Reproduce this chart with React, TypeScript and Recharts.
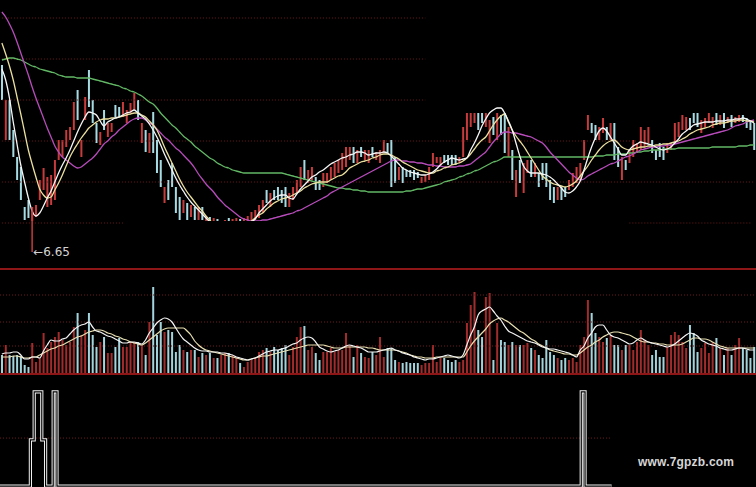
import React from 'react';
import { ComposedChart, Bar, Line, XAxis, YAxis, ReferenceLine, ReferenceDot } from 'recharts';

// candle bodies, one per trading day
const opens = [
  8.52, 7.77, 8.17, 7.87, 7.60, 7.50, 7.10, 7.17, 6.95, 7.00, 7.17, 7.27, 7.10, 7.12, 7.17, 7.57, 7.60, 7.70, 7.77, 7.87,
  8.27, 7.60, 7.97, 8.47, 8.17, 7.94, 7.72, 8.07, 7.80, 7.85, 8.12, 8.10, 8.00, 7.94, 8.04, 8.07, 8.17, 7.74, 7.87, 7.64,
  8.05, 7.77, 7.57, 7.14, 7.37, 7.54, 7.30, 7.20, 7.04, 7.14, 7.00, 7.10, 6.97, 7.10, 6.91, 7.00, 6.87, 6.98, 6.82, 6.85,
  6.99, 6.89, 6.91, 6.98, 6.89, 6.91, 6.96, 6.97, 6.99, 7.04, 7.27, 7.10, 7.27, 7.30, 7.27, 7.30, 7.10, 7.17, 7.24, 7.30,
  7.57, 7.34, 7.37, 7.40, 7.37, 7.30, 7.34, 7.37, 7.40, 7.44, 7.47, 7.50, 7.57, 7.70, 7.54, 7.70, 7.57, 7.54, 7.70, 7.57,
  7.54, 7.64, 7.74, 7.77, 7.60, 7.37, 7.50, 7.47, 7.47, 7.47, 7.45, 7.34, 7.35, 7.37, 7.50, 7.54, 7.52, 7.62, 7.62, 7.62,
  7.62, 7.54, 7.60, 7.77, 7.90, 7.94, 8.04, 8.04, 7.90, 7.74, 8.00, 7.77, 8.02, 8.04, 7.60, 7.67, 7.20, 7.57, 7.24, 7.44,
  7.57, 7.40, 7.44, 7.54, 7.54, 7.37, 7.30, 7.17, 7.30, 7.30, 7.27, 7.30, 7.34, 7.37, 7.57, 7.87, 7.94, 7.92, 7.77, 7.84,
  7.90, 7.77, 7.94, 7.70, 7.37, 7.57, 7.54, 7.60, 7.64, 7.67, 7.70, 7.74, 7.77, 7.67, 7.74, 7.70, 7.64, 7.67, 7.74, 7.80,
  7.87, 7.87, 7.99, 8.04, 8.04, 7.84, 7.90, 7.94, 7.89, 8.04, 7.92, 8.04, 7.94, 8.02, 7.94, 7.95, 8.02, 7.99, 7.95, 7.94,
];
const closes = [
  8.17, 8.17, 7.77, 7.60, 7.37, 7.17, 6.97, 6.99, 7.10, 7.12, 7.37, 7.49, 7.40, 7.42, 7.57, 7.77, 7.77, 7.87, 7.90, 8.15,
  7.97, 7.77, 8.20, 8.10, 7.94, 7.74, 7.85, 7.87, 7.94, 7.94, 8.00, 8.00, 8.15, 8.07, 8.14, 8.24, 7.97, 7.94, 7.65, 7.84,
  7.64, 7.44, 7.30, 7.30, 7.17, 7.30, 7.04, 6.97, 7.17, 6.97, 7.12, 6.97, 7.10, 6.97, 7.01, 6.91, 6.99, 6.85, 6.95, 6.97,
  6.87, 6.98, 6.99, 6.87, 6.99, 7.01, 7.05, 7.07, 7.12, 7.17, 7.14, 7.24, 7.17, 7.17, 7.14, 7.10, 7.24, 7.30, 7.37, 7.50,
  7.37, 7.47, 7.50, 7.27, 7.27, 7.44, 7.44, 7.50, 7.54, 7.57, 7.64, 7.70, 7.70, 7.54, 7.67, 7.60, 7.67, 7.67, 7.60, 7.65,
  7.67, 7.77, 7.64, 7.30, 7.34, 7.50, 7.34, 7.40, 7.40, 7.37, 7.39, 7.40, 7.42, 7.50, 7.64, 7.60, 7.60, 7.54, 7.52, 7.52,
  7.52, 7.60, 7.90, 8.04, 8.04, 8.04, 7.87, 7.94, 8.04, 7.97, 7.82, 8.04, 7.82, 7.64, 7.90, 7.37, 7.47, 7.34, 7.54, 7.57,
  7.40, 7.54, 7.30, 7.37, 7.30, 7.17, 7.14, 7.30, 7.17, 7.20, 7.37, 7.44, 7.50, 7.54, 7.77, 8.02, 7.84, 7.77, 7.90, 7.99,
  7.77, 7.94, 7.57, 7.50, 7.60, 7.47, 7.67, 7.77, 7.74, 7.90, 7.87, 7.90, 7.64, 7.57, 7.60, 7.57, 7.74, 7.74, 7.94, 7.95,
  8.02, 8.00, 7.87, 7.94, 7.90, 7.97, 7.99, 8.04, 8.00, 7.92, 8.02, 7.89, 8.00, 7.90, 8.00, 8.02, 7.95, 7.89, 7.87, 7.67,
];

// price moving averages
const ma5 = [
  8.48, 8.37, 8.19, 7.95, 7.73, 7.52, 7.35, 7.19, 7.06, 7.01, 7.04, 7.11, 7.19, 7.26, 7.35, 7.44, 7.52, 7.59, 7.67, 7.76,
  7.85, 7.93, 8.00, 8.05, 8.04, 8.02, 7.96, 7.91, 7.95, 7.97, 7.99, 8.00, 8.02, 8.04, 8.05, 8.07, 8.04, 8.01, 7.98, 7.93,
  7.87, 7.80, 7.72, 7.63, 7.55, 7.47, 7.39, 7.32, 7.26, 7.20, 7.15, 7.11, 7.07, 7.03, 6.99, 6.95, 6.91, 6.89, 6.87, 6.86,
  6.85, 6.85, 6.86, 6.87, 6.89, 6.92, 6.95, 6.98, 7.04, 7.08, 7.12, 7.16, 7.19, 7.21, 7.22, 7.22, 7.19, 7.18, 7.23, 7.28,
  7.32, 7.36, 7.40, 7.42, 7.45, 7.47, 7.50, 7.53, 7.55, 7.57, 7.59, 7.60, 7.62, 7.63, 7.65, 7.65, 7.64, 7.62, 7.63, 7.64,
  7.64, 7.65, 7.64, 7.61, 7.57, 7.53, 7.49, 7.47, 7.45, 7.44, 7.43, 7.42, 7.42, 7.43, 7.45, 7.48, 7.52, 7.55, 7.57, 7.59,
  7.58, 7.57, 7.58, 7.59, 7.67, 7.74, 7.82, 7.91, 7.98, 8.04, 8.07, 8.09, 8.09, 8.04, 7.96, 7.87, 7.74, 7.61, 7.51, 7.46,
  7.44, 7.44, 7.44, 7.43, 7.42, 7.40, 7.37, 7.33, 7.29, 7.25, 7.24, 7.26, 7.30, 7.36, 7.47, 7.59, 7.70, 7.79, 7.86, 7.89,
  7.86, 7.80, 7.74, 7.68, 7.62, 7.62, 7.67, 7.71, 7.73, 7.75, 7.74, 7.73, 7.72, 7.70, 7.68, 7.67, 7.68, 7.70, 7.74, 7.78,
  7.83, 7.86, 7.89, 7.92, 7.93, 7.94, 7.95, 7.95, 7.95, 7.96, 7.96, 7.96, 7.97, 7.97, 7.98, 7.98, 7.99, 7.98, 7.96, 7.94,
];
const ma10 = [
  8.74, 8.63, 8.51, 8.37, 8.20, 8.03, 7.85, 7.67, 7.53, 7.40, 7.28, 7.22, 7.19, 7.20, 7.27, 7.34, 7.42, 7.51, 7.60, 7.67,
  7.73, 7.79, 7.84, 7.89, 7.92, 7.95, 7.97, 7.98, 7.98, 7.99, 7.99, 8.00, 8.01, 8.02, 8.03, 8.04, 8.04, 8.02, 8.00, 7.96,
  7.92, 7.87, 7.79, 7.70, 7.62, 7.54, 7.46, 7.38, 7.31, 7.25, 7.20, 7.15, 7.10, 7.06, 7.01, 6.97, 6.93, 6.90, 6.88, 6.86,
  6.85, 6.85, 6.86, 6.88, 6.90, 6.93, 6.96, 6.99, 7.02, 7.04, 7.08, 7.11, 7.14, 7.16, 7.18, 7.19, 7.20, 7.22, 7.24, 7.26,
  7.29, 7.31, 7.33, 7.34, 7.35, 7.35, 7.35, 7.37, 7.39, 7.41, 7.42, 7.45, 7.49, 7.51, 7.53, 7.55, 7.56, 7.57, 7.59, 7.60,
  7.62, 7.63, 7.63, 7.62, 7.60, 7.58, 7.55, 7.53, 7.51, 7.49, 7.47, 7.46, 7.45, 7.44, 7.44, 7.46, 7.47, 7.49, 7.50, 7.52,
  7.53, 7.54, 7.56, 7.59, 7.63, 7.68, 7.73, 7.77, 7.80, 7.86, 7.92, 7.97, 8.01, 8.03, 7.95, 7.87, 7.81, 7.76, 7.71, 7.65,
  7.59, 7.53, 7.47, 7.41, 7.38, 7.35, 7.33, 7.32, 7.31, 7.30, 7.31, 7.33, 7.36, 7.41, 7.46, 7.51, 7.57, 7.62, 7.67, 7.71,
  7.74, 7.76, 7.77, 7.74, 7.70, 7.68, 7.67, 7.68, 7.69, 7.70, 7.70, 7.71, 7.71, 7.72, 7.72, 7.73, 7.73, 7.74, 7.75, 7.76,
  7.78, 7.80, 7.83, 7.85, 7.87, 7.88, 7.89, 7.90, 7.92, 7.93, 7.94, 7.94, 7.95, 7.96, 7.96, 7.97, 7.97, 7.96, 7.96, 7.95,
];
const ma20 = [
  9.05, 9.00, 8.93, 8.85, 8.75, 8.64, 8.53, 8.42, 8.30, 8.19, 8.09, 7.99, 7.89, 7.80, 7.71, 7.65, 7.60, 7.57, 7.54, 7.51,
  7.49, 7.50, 7.53, 7.56, 7.59, 7.63, 7.68, 7.73, 7.76, 7.80, 7.83, 7.87, 7.90, 7.93, 7.96, 7.98, 7.99, 7.99, 7.97, 7.94,
  7.92, 7.88, 7.84, 7.80, 7.77, 7.73, 7.69, 7.66, 7.62, 7.58, 7.54, 7.49, 7.43, 7.38, 7.33, 7.29, 7.25, 7.20, 7.16, 7.12,
  7.09, 7.06, 7.03, 7.00, 6.98, 6.97, 6.96, 6.96, 6.96, 6.97, 6.97, 6.98, 6.99, 7.00, 7.01, 7.02, 7.03, 7.04, 7.06, 7.07,
  7.09, 7.11, 7.13, 7.15, 7.17, 7.19, 7.21, 7.24, 7.26, 7.28, 7.30, 7.32, 7.34, 7.36, 7.38, 7.40, 7.42, 7.44, 7.46, 7.48,
  7.50, 7.52, 7.54, 7.56, 7.57, 7.57, 7.56, 7.56, 7.55, 7.55, 7.54, 7.54, 7.53, 7.52, 7.52, 7.51, 7.51, 7.50, 7.50, 7.50,
  7.50, 7.51, 7.51, 7.52, 7.53, 7.56, 7.59, 7.62, 7.65, 7.70, 7.75, 7.79, 7.83, 7.85, 7.85, 7.84, 7.84, 7.83, 7.82, 7.81,
  7.80, 7.78, 7.76, 7.74, 7.70, 7.65, 7.61, 7.57, 7.53, 7.49, 7.45, 7.42, 7.39, 7.37, 7.38, 7.41, 7.43, 7.45, 7.47, 7.49,
  7.51, 7.53, 7.54, 7.56, 7.58, 7.60, 7.61, 7.63, 7.65, 7.67, 7.68, 7.69, 7.70, 7.70, 7.71, 7.71, 7.72, 7.72, 7.73, 7.74,
  7.75, 7.76, 7.77, 7.78, 7.79, 7.80, 7.81, 7.82, 7.83, 7.84, 7.85, 7.86, 7.87, 7.89, 7.91, 7.92, 7.93, 7.95, 7.96, 7.97,
];
const ma60 = [
  8.57, 8.58, 8.59, 8.59, 8.58, 8.57, 8.55, 8.53, 8.51, 8.50, 8.48, 8.47, 8.46, 8.45, 8.44, 8.42, 8.41, 8.40, 8.40, 8.40,
  8.39, 8.39, 8.39, 8.39, 8.38, 8.37, 8.36, 8.35, 8.34, 8.33, 8.32, 8.31, 8.29, 8.28, 8.26, 8.25, 8.23, 8.21, 8.18, 8.15,
  8.13, 8.09, 8.04, 8.00, 7.96, 7.92, 7.89, 7.85, 7.81, 7.78, 7.75, 7.71, 7.68, 7.65, 7.62, 7.59, 7.57, 7.54, 7.52, 7.50,
  7.49, 7.47, 7.46, 7.45, 7.44, 7.44, 7.44, 7.44, 7.44, 7.44, 7.44, 7.44, 7.44, 7.44, 7.44, 7.43, 7.42, 7.41, 7.40, 7.39,
  7.38, 7.37, 7.36, 7.35, 7.34, 7.33, 7.32, 7.31, 7.30, 7.29, 7.29, 7.28, 7.28, 7.27, 7.27, 7.26, 7.26, 7.25, 7.25, 7.25,
  7.25, 7.25, 7.25, 7.25, 7.25, 7.25, 7.25, 7.26, 7.26, 7.27, 7.28, 7.28, 7.29, 7.30, 7.31, 7.32, 7.33, 7.35, 7.36, 7.37,
  7.38, 7.40, 7.41, 7.43, 7.44, 7.46, 7.47, 7.49, 7.51, 7.53, 7.55, 7.56, 7.58, 7.60, 7.60, 7.60, 7.60, 7.60, 7.60, 7.60,
  7.60, 7.60, 7.60, 7.60, 7.60, 7.60, 7.60, 7.60, 7.60, 7.60, 7.60, 7.60, 7.60, 7.60, 7.60, 7.60, 7.60, 7.61, 7.61, 7.61,
  7.62, 7.62, 7.62, 7.63, 7.63, 7.63, 7.64, 7.64, 7.65, 7.65, 7.66, 7.66, 7.67, 7.67, 7.67, 7.68, 7.68, 7.68, 7.68, 7.69,
  7.69, 7.69, 7.69, 7.69, 7.69, 7.69, 7.69, 7.69, 7.70, 7.70, 7.70, 7.70, 7.70, 7.70, 7.70, 7.71, 7.71, 7.71, 7.72, 7.72,
];

// volume (10k lots) and its averages
const volumes = [
  1.8, 2.8, 1.8, 1.7, 1.8, 1.7, 0.8, 0.6, 3.0, 1.1, 1.5, 4.0, 2.5, 3.1, 3.6, 4.1, 3.3, 2.8, 3.1, 4.6,
  6.0, 3.8, 4.3, 6.0, 3.8, 2.6, 3.1, 3.6, 2.0, 2.0, 2.6, 3.5, 2.6, 2.6, 3.1, 3.1, 3.1, 2.8, 1.8, 5.1,
  8.6, 3.8, 5.1, 4.1, 4.3, 4.1, 2.1, 2.8, 2.3, 2.1, 2.3, 2.3, 1.6, 2.0, 1.8, 2.0, 1.5, 1.5, 1.8, 2.0,
  2.0, 1.8, 1.5, 1.0, 0.6, 1.1, 1.3, 1.5, 2.1, 2.3, 2.5, 2.1, 2.6, 2.3, 2.5, 2.8, 1.8, 2.6, 3.6, 4.6,
  4.7, 2.3, 2.6, 2.0, 1.3, 2.1, 2.1, 2.5, 2.1, 2.3, 2.3, 4.0, 2.8, 1.6, 2.8, 2.0, 1.6, 1.5, 2.1, 1.8,
  3.6, 1.6, 2.5, 2.5, 1.3, 1.1, 1.0, 1.1, 1.0, 1.0, 1.0, 0.8, 1.0, 1.0, 2.8, 1.1, 1.5, 1.5, 1.3, 1.1,
  1.3, 1.1, 1.3, 5.0, 6.8, 8.1, 4.3, 3.6, 7.6, 8.0, 1.3, 5.0, 3.3, 3.1, 2.8, 3.1, 2.8, 2.8, 2.8, 3.0,
  2.5, 2.3, 1.8, 1.5, 3.3, 2.1, 1.8, 1.5, 1.3, 1.5, 1.3, 1.5, 1.1, 2.8, 3.6, 7.3, 6.0, 4.0, 3.6, 3.1,
  3.5, 3.8, 2.8, 2.8, 2.3, 2.8, 2.8, 2.3, 3.1, 4.3, 3.3, 2.8, 1.8, 2.3, 1.6, 1.6, 2.6, 3.8, 4.1, 3.8,
  3.1, 2.5, 4.8, 4.0, 2.1, 2.5, 3.0, 2.0, 3.1, 3.5, 2.5, 1.8, 2.5, 1.8, 2.8, 3.5, 2.5, 2.3, 1.5, 2.6,
];
const volMa5 = [
  1.9, 2.0, 2.0, 2.1, 2.1, 1.8, 1.4, 1.4, 1.6, 1.6, 1.5, 2.2, 2.8, 3.3, 3.2, 3.2, 3.4, 3.5, 3.9, 4.3,
  4.6, 4.8, 4.9, 5.1, 4.6, 4.2, 4.1, 3.9, 3.7, 3.6, 3.4, 3.2, 3.0, 3.0, 3.1, 3.1, 3.0, 2.9, 3.3, 4.0,
  4.5, 5.0, 5.3, 5.5, 5.4, 5.1, 4.5, 3.9, 3.4, 3.1, 2.8, 2.5, 2.3, 2.2, 2.2, 2.1, 2.1, 2.1, 2.0, 2.0,
  1.9, 1.8, 1.6, 1.5, 1.4, 1.3, 1.4, 1.5, 1.7, 1.9, 2.1, 2.2, 2.3, 2.3, 2.4, 2.5, 2.7, 2.9, 3.0, 3.3,
  3.5, 3.6, 3.5, 3.1, 2.6, 2.4, 2.2, 2.1, 2.2, 2.3, 2.5, 2.7, 2.8, 2.7, 2.6, 2.5, 2.3, 2.1, 2.1, 2.1,
  2.2, 2.3, 2.4, 2.5, 2.3, 2.2, 2.0, 1.9, 1.8, 1.6, 1.5, 1.4, 1.3, 1.4, 1.4, 1.5, 1.6, 1.7, 1.8, 1.7,
  1.6, 1.5, 1.8, 2.8, 3.8, 4.6, 5.8, 6.2, 6.4, 6.6, 6.2, 5.7, 5.3, 4.7, 4.2, 4.0, 3.8, 3.6, 3.4, 3.2,
  3.1, 3.0, 2.8, 2.6, 2.5, 2.4, 2.4, 2.3, 2.2, 2.1, 2.0, 1.8, 1.6, 2.3, 2.7, 3.5, 4.0, 4.6, 4.8, 4.8,
  4.3, 3.8, 3.6, 3.5, 3.3, 3.1, 2.9, 3.0, 3.3, 3.5, 3.3, 3.1, 3.0, 2.9, 2.8, 2.7, 2.6, 2.7, 2.9, 3.2,
  3.5, 3.8, 4.0, 3.9, 3.7, 3.3, 3.1, 2.9, 2.8, 2.7, 2.5, 2.4, 2.3, 2.3, 2.4, 2.5, 2.5, 2.4, 2.3, 2.3,
];
const volMa10 = [
  1.6, 1.6, 1.6, 1.7, 1.7, 1.6, 1.5, 1.5, 1.6, 1.6, 1.8, 2.0, 2.2, 2.4, 2.5, 2.7, 2.8, 3.0, 3.2, 3.4,
  3.6, 3.7, 3.9, 4.1, 4.2, 4.3, 4.3, 4.2, 4.0, 3.9, 3.7, 3.6, 3.4, 3.3, 3.1, 3.0, 2.9, 2.8, 3.0, 3.3,
  3.6, 3.9, 4.2, 4.4, 4.5, 4.5, 4.5, 4.5, 4.5, 4.2, 3.8, 3.2, 2.8, 2.5, 2.3, 2.2, 2.1, 2.0, 1.9, 1.8,
  1.7, 1.6, 1.5, 1.4, 1.3, 1.3, 1.4, 1.5, 1.6, 1.7, 1.7, 1.8, 1.9, 2.0, 2.1, 2.2, 2.3, 2.4, 2.5, 2.6,
  2.7, 2.8, 2.8, 2.8, 2.8, 2.8, 2.7, 2.6, 2.5, 2.5, 2.5, 2.6, 2.6, 2.6, 2.6, 2.6, 2.6, 2.5, 2.5, 2.4,
  2.3, 2.3, 2.3, 2.3, 2.3, 2.2, 2.1, 2.0, 1.8, 1.7, 1.6, 1.6, 1.5, 1.5, 1.5, 1.6, 1.6, 1.6, 1.6, 1.6,
  1.6, 1.6, 1.6, 2.1, 2.7, 3.2, 3.6, 4.0, 4.4, 4.9, 5.2, 5.4, 5.5, 5.3, 5.1, 4.8, 4.5, 4.2, 4.0, 3.7,
  3.4, 3.2, 2.9, 2.7, 2.5, 2.3, 2.2, 2.1, 2.0, 1.9, 1.9, 1.8, 1.8, 2.0, 2.3, 2.6, 2.8, 3.1, 3.3, 3.6,
  3.8, 4.0, 4.1, 4.1, 4.0, 3.9, 3.8, 3.6, 3.4, 3.2, 3.1, 3.1, 3.0, 3.0, 2.9, 2.9, 2.8, 2.8, 2.8, 2.8,
  2.9, 3.1, 3.3, 3.5, 3.5, 3.4, 3.4, 3.3, 3.1, 2.9, 2.7, 2.6, 2.5, 2.5, 2.5, 2.5, 2.5, 2.5, 2.5, 2.5,
];

// signal indicator (null where it is not drawn)
const signal: (number | null)[] = [
  0, 0, 0, 0, 0, 0, 0, 0, 49, 100, 100, 49, 0, 0, 100, 0, 0, 0, 0, 0,
  0, 0, 0, 0, 0, 0, 0, 0, 0, 0, 0, 0, 0, 0, 0, 0, 0, 0, 0, 0,
  0, 0, 0, 0, 0, 0, 0, 0, 0, 0, 0, 0, 0, 0, 0, 0, 0, 0, 0, 0,
  0, 0, 0, 0, 0, 0, 0, 0, 0, 0, 0, 0, 0, 0, 0, 0, 0, 0, 0, 0,
  0, 0, 0, 0, 0, 0, 0, 0, 0, 0, 0, 0, 0, 0, 0, 0, 0, 0, 0, 0,
  0, 0, 0, 0, 0, 0, 0, 0, 0, 0, 0, 0, 0, 0, 0, 0, 0, 0, 0, 0,
  0, 0, 0, 0, 0, 0, 0, 0, 0, 0, 0, 0, 0, 0, 0, 0, 0, 0, 0, 0,
  0, 0, 0, 0, 0, 0, 0, 0, 0, 0, 0, 0, 0, 100, 0, 0, 0, 0, 0, 0,
  0, 0, null, null, null, null, null, null, null, null, null, null, null, null, null, null, null, null, null, null,
  null, null, null, null, null, null, null, null, null, null, null, null, null, null, null, null, null, null, null, null,
];

const lowIndex = 8;
const lowPrice = 6.65;
const lowLabel = '←6.65';

const priceGrid = [
  { price: 8.99, from: 0, to: 112 },
  { price: 8.58, from: 0, to: 112 },
  { price: 8.17, from: 0, to: 112 },
  { price: 7.76, from: 0, to: 168 },
  { price: 7.35, from: 0, to: 199 },
  { price: 6.94, from: 0, to: 32 },
  { price: 6.94, from: 166, to: 198 },
];
const volumeGrid = [7.8, 5.1, 2.7];
const signalGrid = 51;

const RED = '#c63b3b';
const CYAN = '#a6dbe3';
const VOL_RED = '#a22c2c';
const VOL_CYAN = '#a3d3db';
const GRID = '#6e1a1a';
const BORDER = '#8e1616';

const rows = opens.map((open, i) => {
  const close = closes[i];
  return {
    i,
    open,
    close,
    up: close >= open,
    body: [Math.min(open, close), Math.max(open, close)],
    ma5: ma5[i],
    ma10: ma10[i],
    ma20: ma20[i],
    ma60: ma60[i],
    vol: volumes[i],
    volMa5: volMa5[i],
    volMa10: volMa10[i],
    signal: signal[i],
  };
});

const CandleShape = (props: any) => {
  const { x, y, width, height, payload } = props;
  const top = Math.min(y, y + height);
  const h = Math.max(Math.abs(height), 1.5);
  return <rect x={x} y={top} width={width} height={h} fill={payload.up ? RED : CYAN} />;
};

const VolumeShape = (props: any) => {
  const { x, y, width, height, payload } = props;
  const top = Math.min(y, y + height);
  return <rect x={x} y={top} width={width} height={Math.abs(height)} fill={payload.up ? VOL_RED : VOL_CYAN} />;
};

const App = () => {
  return (
    <div style={{ position: 'absolute', left: 0, top: 0, width: 756, height: 487, background: '#000', overflow: 'hidden' }}>
      <div style={{ position: 'absolute', left: 0, top: 0 }}>
        <ComposedChart width={756} height={268} data={rows} margin={{ top: 0, right: 0, bottom: 47, left: 0 }} barSize={2}>
          <XAxis dataKey="i" hide />
          <YAxis hide domain={[6.96, 9.17]} allowDataOverflow />
          {priceGrid.map((g, k) => (
            <ReferenceLine
              key={k}
              segment={[{ x: g.from, y: g.price }, { x: g.to, y: g.price }]}
              stroke={GRID}
              strokeDasharray="1 2"
              ifOverflow="visible"
            />
          ))}
          <Bar dataKey="body" shape={CandleShape} isAnimationActive={false} />
          <Line type="monotone" dataKey="ma60" stroke="#62b865" strokeWidth={1.3} dot={false} activeDot={false} isAnimationActive={false} />
          <Line type="monotone" dataKey="ma20" stroke="#b84cbc" strokeWidth={1.3} dot={false} activeDot={false} isAnimationActive={false} />
          <Line type="monotone" dataKey="ma10" stroke="#eadf9e" strokeWidth={1.3} dot={false} activeDot={false} isAnimationActive={false} />
          <Line type="monotone" dataKey="ma5" stroke="#f6f6f6" strokeWidth={1.3} dot={false} activeDot={false} isAnimationActive={false} />
          <ReferenceLine
            segment={[{ x: lowIndex, y: closes[lowIndex] }, { x: lowIndex, y: lowPrice }]}
            stroke={RED}
            strokeWidth={1.5}
            ifOverflow="visible"
          />
          <ReferenceDot
            x={lowIndex}
            y={lowPrice}
            r={0}
            ifOverflow="visible"
            label={{ value: lowLabel, position: 'right', offset: 1, fill: '#d4d4d4', fontSize: 12, fontFamily: 'DejaVu Sans' }}
          />
        </ComposedChart>
      </div>
      <div style={{ position: 'absolute', left: 0, top: 268, width: 756, height: 1.5, background: BORDER }} />
      <div style={{ position: 'absolute', left: 0, top: 270 }}>
        <ComposedChart width={756} height={103} data={rows} margin={{ top: 0, right: 0, bottom: 0, left: 0 }} barSize={2}>
          <XAxis dataKey="i" hide />
          <YAxis hide domain={[0, 10.3]} />
          {volumeGrid.map((v) => (
            <ReferenceLine key={v} y={v} stroke={GRID} strokeDasharray="1 2" />
          ))}
          <Bar dataKey="vol" shape={VolumeShape} isAnimationActive={false} />
          <Line type="monotone" dataKey="volMa10" stroke="#e8dfb0" strokeWidth={1.2} dot={false} activeDot={false} isAnimationActive={false} />
          <Line type="monotone" dataKey="volMa5" stroke="#f4f4f4" strokeWidth={1.2} dot={false} activeDot={false} isAnimationActive={false} />
        </ComposedChart>
      </div>
      <div style={{ position: 'absolute', left: 0, top: 373, width: 756, height: 1.5, background: BORDER }} />
      <div style={{ position: 'absolute', left: 0, top: 375 }}>
        <ComposedChart width={756} height={112} data={rows} margin={{ top: 0, right: 0, bottom: 0, left: 0 }}>
          <XAxis dataKey="i" hide />
          <YAxis hide domain={[-1, 118]} />
          <ReferenceLine
            segment={[{ x: 0, y: signalGrid }, { x: 161, y: signalGrid }]}
            stroke={GRID}
            strokeDasharray="1 2"
          />
          <Line type="stepAfter" dataKey="signal" stroke="#f2f2f2" strokeWidth={3.2} dot={false} activeDot={false} connectNulls={false} isAnimationActive={false} />
          <Line type="stepAfter" dataKey="signal" stroke="#000" strokeWidth={1.2} dot={false} activeDot={false} connectNulls={false} isAnimationActive={false} />
        </ComposedChart>
      </div>
      <div
        style={{
          position: 'absolute',
          left: 638,
          top: 455,
          fontFamily: '"Liberation Sans", Arial, sans-serif',
          fontWeight: 'bold',
          fontSize: 12,
          color: '#d6d6d6',
          letterSpacing: 0.2,
        }}
      >
        www.7gpzb.com
      </div>
    </div>
  );
};

export default App;
